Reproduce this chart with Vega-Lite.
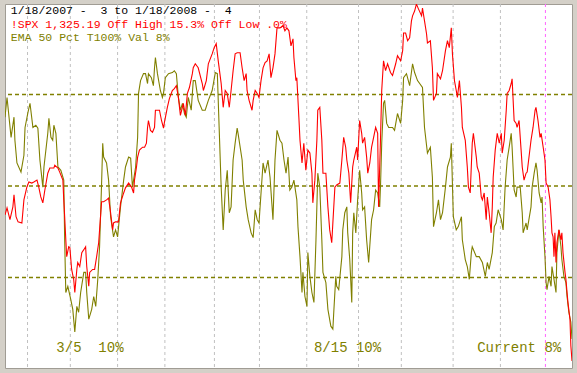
{
"$schema":"https://vega.github.io/schema/vega-lite/v6.json",
"width":577,"height":373,
"autosize":{"type":"fit","contains":"padding"},
"padding":{"left":4,"top":3,"right":4,"bottom":4},
"background":"#d4d0c8",
"view":{"fill":"#ffffff","stroke":"#a09c94","strokeWidth":1},
"datasets":{
"grid":[{"day":10,"kind":"month"},{"day":29,"kind":"month"},{"day":50,"kind":"month"},{"day":71,"kind":"month"},{"day":93,"kind":"month"},{"day":113,"kind":"month"},{"day":134,"kind":"month"},{"day":157,"kind":"month"},{"day":176,"kind":"month"},{"day":199,"kind":"month"},{"day":220,"kind":"month"}],
"yearline":[{"day":240}],
"levels":[{"pct":25},{"pct":50},{"pct":75}],
"ema":[{"day":0,"pct":68.8},{"day":0.9,"pct":74.2},{"day":2.7,"pct":63.3},{"day":4.0,"pct":68.8},{"day":4.4,"pct":62.5},{"day":5.3,"pct":56.3},{"day":7.1,"pct":53.8},{"day":8.4,"pct":58.4},{"day":8.9,"pct":66.0},{"day":10.2,"pct":70.1},{"day":11.1,"pct":72.6},{"day":12.4,"pct":66.0},{"day":13.7,"pct":66.6},{"day":14.6,"pct":65.8},{"day":15.5,"pct":57.1},{"day":16.8,"pct":49.7},{"day":17.3,"pct":55.2},{"day":19.0,"pct":64.4},{"day":19.5,"pct":68.5},{"day":20.4,"pct":63.3},{"day":21.2,"pct":62.5},{"day":21.7,"pct":66.6},{"day":22.6,"pct":64.4},{"day":23.5,"pct":55.2},{"day":24.8,"pct":54.3},{"day":26.1,"pct":51.6},{"day":26.5,"pct":35.3},{"day":27.0,"pct":20.9},{"day":27.9,"pct":22.6},{"day":29.2,"pct":19.0},{"day":30.1,"pct":16.3},{"day":31.0,"pct":10.1},{"day":31.9,"pct":17.1},{"day":32.7,"pct":15.5},{"day":33.6,"pct":20.9},{"day":35.0,"pct":26.4},{"day":35.8,"pct":26.4},{"day":36.3,"pct":20.9},{"day":37.2,"pct":13.6},{"day":38.5,"pct":16.3},{"day":39.4,"pct":19.8},{"day":40.3,"pct":17.1},{"day":41.2,"pct":24.5},{"day":42.0,"pct":33.4},{"day":42.9,"pct":50.8},{"day":43.4,"pct":61.7},{"day":43.8,"pct":57.9},{"day":45.1,"pct":56.3},{"day":46.0,"pct":51.6},{"day":46.9,"pct":41.6},{"day":48.2,"pct":36.1},{"day":49.1,"pct":38.0},{"day":50.0,"pct":36.1},{"day":51.3,"pct":44.3},{"day":52.7,"pct":51.6},{"day":53.5,"pct":55.2},{"day":54.9,"pct":57.9},{"day":55.8,"pct":57.6},{"day":56.6,"pct":49.7},{"day":57.1,"pct":51.6},{"day":58.0,"pct":55.2},{"day":58.9,"pct":63.3},{"day":59.3,"pct":75.3},{"day":60.2,"pct":78.8},{"day":61.5,"pct":80.7},{"day":62.4,"pct":80.7},{"day":63.3,"pct":78.0},{"day":63.7,"pct":80.7},{"day":65.0,"pct":79.6},{"day":65.9,"pct":77.4},{"day":66.4,"pct":82.3},{"day":66.8,"pct":85.1},{"day":67.7,"pct":80.7},{"day":69.0,"pct":76.1},{"day":69.9,"pct":74.2},{"day":70.4,"pct":75.3},{"day":71.2,"pct":79.6},{"day":72.6,"pct":80.7},{"day":74.3,"pct":81.0},{"day":75.2,"pct":81.5},{"day":76.1,"pct":80.7},{"day":77.0,"pct":74.2},{"day":77.9,"pct":70.7},{"day":78.8,"pct":72.6},{"day":79.7,"pct":69.8},{"day":80.5,"pct":68.8},{"day":81.4,"pct":74.2},{"day":82.7,"pct":70.7},{"day":83.6,"pct":78.8},{"day":84.5,"pct":78.8},{"day":85.8,"pct":73.4},{"day":87.6,"pct":70.7},{"day":88.9,"pct":70.7},{"day":90.3,"pct":73.4},{"day":92.0,"pct":76.1},{"day":93.4,"pct":81.0},{"day":94.3,"pct":80.7},{"day":95.1,"pct":66.0},{"day":96.0,"pct":49.7},{"day":96.9,"pct":38.0},{"day":97.8,"pct":48.9},{"day":98.7,"pct":54.3},{"day":99.6,"pct":42.7},{"day":100.4,"pct":44.3},{"day":101.3,"pct":57.1},{"day":102.2,"pct":61.7},{"day":103.1,"pct":65.8},{"day":103.5,"pct":64.4},{"day":105.3,"pct":57.1},{"day":105.8,"pct":51.6},{"day":107.1,"pct":44.3},{"day":108.0,"pct":40.8},{"day":109.3,"pct":37.2},{"day":110.2,"pct":35.9},{"day":111.1,"pct":43.5},{"day":112.0,"pct":40.8},{"day":112.8,"pct":39.9},{"day":113.7,"pct":48.1},{"day":114.6,"pct":56.3},{"day":115.5,"pct":53.5},{"day":116.8,"pct":57.1},{"day":117.7,"pct":52.4},{"day":119.0,"pct":40.8},{"day":119.9,"pct":57.1},{"day":120.8,"pct":65.2},{"day":122.1,"pct":62.5},{"day":123.0,"pct":61.7},{"day":123.9,"pct":57.1},{"day":124.8,"pct":53.5},{"day":125.7,"pct":57.9},{"day":126.5,"pct":48.9},{"day":127.4,"pct":49.7},{"day":128.3,"pct":51.6},{"day":129.6,"pct":46.2},{"day":130.1,"pct":38.9},{"day":131.0,"pct":30.7},{"day":131.9,"pct":20.9},{"day":132.3,"pct":26.4},{"day":133.2,"pct":19.8},{"day":134.1,"pct":17.1},{"day":134.5,"pct":31.8},{"day":135.4,"pct":25.3},{"day":136.3,"pct":20.9},{"day":137.2,"pct":18.2},{"day":138.1,"pct":35.3},{"day":138.9,"pct":53.5},{"day":139.8,"pct":49.7},{"day":140.7,"pct":35.3},{"day":141.2,"pct":26.4},{"day":142.5,"pct":23.6},{"day":143.4,"pct":16.3},{"day":144.7,"pct":11.7},{"day":145.6,"pct":10.9},{"day":146.0,"pct":15.5},{"day":146.9,"pct":25.3},{"day":147.3,"pct":22.6},{"day":148.2,"pct":21.7},{"day":149.6,"pct":30.7},{"day":150.0,"pct":38.0},{"day":150.9,"pct":42.7},{"day":151.8,"pct":44.3},{"day":152.2,"pct":37.2},{"day":153.1,"pct":29.9},{"day":154.0,"pct":18.2},{"day":154.4,"pct":37.2},{"day":154.9,"pct":42.7},{"day":155.8,"pct":37.2},{"day":156.6,"pct":46.2},{"day":157.5,"pct":54.3},{"day":158.4,"pct":48.1},{"day":158.8,"pct":43.5},{"day":159.7,"pct":44.3},{"day":160.6,"pct":35.3},{"day":161.5,"pct":29.1},{"day":162.8,"pct":40.8},{"day":163.7,"pct":43.5},{"day":164.6,"pct":48.9},{"day":165.5,"pct":48.1},{"day":166.4,"pct":44.3},{"day":166.8,"pct":50.8},{"day":167.3,"pct":61.7},{"day":168.1,"pct":72.6},{"day":168.6,"pct":73.4},{"day":169.5,"pct":67.1},{"day":170.4,"pct":66.0},{"day":172.1,"pct":66.0},{"day":173.0,"pct":65.2},{"day":174.3,"pct":69.8},{"day":175.7,"pct":67.1},{"day":176.6,"pct":73.4},{"day":177.0,"pct":79.6},{"day":178.3,"pct":80.7},{"day":179.7,"pct":77.4},{"day":181.0,"pct":83.4},{"day":181.9,"pct":81.0},{"day":183.2,"pct":78.8},{"day":185.4,"pct":76.9},{"day":186.3,"pct":66.0},{"day":187.6,"pct":59.0},{"day":188.9,"pct":60.6},{"day":189.8,"pct":52.4},{"day":190.3,"pct":38.9},{"day":191.6,"pct":42.7},{"day":192.5,"pct":46.2},{"day":193.4,"pct":40.8},{"day":194.3,"pct":42.7},{"day":195.6,"pct":49.7},{"day":196.5,"pct":55.2},{"day":197.8,"pct":57.9},{"day":198.2,"pct":61.7},{"day":199.1,"pct":41.6},{"day":200.4,"pct":38.0},{"day":201.3,"pct":38.9},{"day":202.7,"pct":41.6},{"day":203.1,"pct":35.3},{"day":204.4,"pct":29.9},{"day":205.3,"pct":28.0},{"day":206.2,"pct":24.5},{"day":207.1,"pct":31.8},{"day":207.5,"pct":33.4},{"day":209.3,"pct":30.7},{"day":210.6,"pct":30.7},{"day":212.0,"pct":29.1},{"day":213.3,"pct":25.3},{"day":214.2,"pct":29.1},{"day":215.0,"pct":27.2},{"day":216.4,"pct":31.8},{"day":217.3,"pct":38.9},{"day":218.1,"pct":39.9},{"day":219.0,"pct":43.5},{"day":220.4,"pct":40.8},{"day":221.2,"pct":38.0},{"day":222.1,"pct":49.7},{"day":223.0,"pct":57.1},{"day":223.9,"pct":60.6},{"day":224.8,"pct":64.4},{"day":225.2,"pct":60.6},{"day":226.1,"pct":48.9},{"day":227.0,"pct":47.0},{"day":227.4,"pct":49.7},{"day":228.8,"pct":49.7},{"day":229.7,"pct":42.7},{"day":230.1,"pct":37.2},{"day":231.4,"pct":39.9},{"day":231.9,"pct":38.0},{"day":233.6,"pct":44.3},{"day":234.1,"pct":49.7},{"day":235.0,"pct":53.5},{"day":235.8,"pct":56.3},{"day":236.3,"pct":54.3},{"day":237.2,"pct":48.1},{"day":238.1,"pct":45.4},{"day":238.5,"pct":47.0},{"day":239.0,"pct":38.9},{"day":239.8,"pct":30.7},{"day":240.3,"pct":23.6},{"day":240.7,"pct":21.7},{"day":241.6,"pct":25.3},{"day":242.5,"pct":22.6},{"day":242.9,"pct":28.0},{"day":243.8,"pct":24.5},{"day":244.7,"pct":20.9},{"day":245.1,"pct":31.8},{"day":246.0,"pct":38.0},{"day":246.9,"pct":33.4},{"day":247.3,"pct":29.9},{"day":248.2,"pct":25.3},{"day":249.1,"pct":23.6},{"day":249.6,"pct":19.8},{"day":250.4,"pct":15.5},{"day":251.3,"pct":12.8},{"day":251.8,"pct":8.2}],
"spx":[{"day":0,"pct":42.1},{"day":0.9,"pct":44.0},{"day":2.2,"pct":40.8},{"day":3.5,"pct":44.3},{"day":4.0,"pct":47.6},{"day":4.9,"pct":41.6},{"day":5.8,"pct":40.2},{"day":7.5,"pct":39.9},{"day":8.4,"pct":46.2},{"day":9.7,"pct":49.7},{"day":10.6,"pct":51.1},{"day":11.9,"pct":50.8},{"day":12.8,"pct":51.1},{"day":14.2,"pct":51.6},{"day":15.0,"pct":49.7},{"day":15.9,"pct":47.0},{"day":16.8,"pct":45.4},{"day":17.7,"pct":48.9},{"day":19.0,"pct":53.5},{"day":19.9,"pct":54.9},{"day":21.7,"pct":54.9},{"day":22.1,"pct":55.7},{"day":23.5,"pct":54.9},{"day":24.3,"pct":53.8},{"day":25.7,"pct":51.6},{"day":26.1,"pct":46.2},{"day":26.5,"pct":41.6},{"day":27.0,"pct":35.3},{"day":27.4,"pct":30.7},{"day":28.3,"pct":33.4},{"day":28.8,"pct":33.2},{"day":29.6,"pct":27.2},{"day":30.5,"pct":24.5},{"day":31.0,"pct":20.9},{"day":31.9,"pct":27.2},{"day":32.3,"pct":29.1},{"day":33.2,"pct":28.0},{"day":34.1,"pct":31.8},{"day":35.0,"pct":32.6},{"day":35.8,"pct":33.4},{"day":36.3,"pct":28.0},{"day":37.2,"pct":22.6},{"day":37.6,"pct":26.4},{"day":38.9,"pct":27.2},{"day":39.8,"pct":27.2},{"day":40.7,"pct":30.7},{"day":41.6,"pct":34.5},{"day":42.0,"pct":38.0},{"day":42.9,"pct":45.7},{"day":43.8,"pct":45.7},{"day":45.1,"pct":46.2},{"day":46.0,"pct":46.7},{"day":46.9,"pct":42.7},{"day":47.8,"pct":38.0},{"day":48.2,"pct":39.9},{"day":49.1,"pct":40.2},{"day":50.4,"pct":40.2},{"day":51.3,"pct":45.4},{"day":52.7,"pct":48.1},{"day":53.5,"pct":49.5},{"day":54.9,"pct":50.8},{"day":56.2,"pct":49.7},{"day":57.1,"pct":48.1},{"day":57.5,"pct":51.6},{"day":58.4,"pct":55.2},{"day":58.9,"pct":57.9},{"day":59.7,"pct":59.8},{"day":61.1,"pct":60.6},{"day":62.0,"pct":60.6},{"day":62.8,"pct":61.7},{"day":63.3,"pct":66.0},{"day":63.7,"pct":67.9},{"day":64.6,"pct":65.2},{"day":65.5,"pct":64.7},{"day":66.4,"pct":66.0},{"day":66.8,"pct":70.7},{"day":67.7,"pct":70.7},{"day":68.6,"pct":70.7},{"day":69.5,"pct":67.9},{"day":70.4,"pct":65.8},{"day":70.8,"pct":67.4},{"day":72.1,"pct":71.5},{"day":73.0,"pct":73.9},{"day":74.3,"pct":76.1},{"day":75.2,"pct":76.6},{"day":76.1,"pct":77.4},{"day":77.0,"pct":74.2},{"day":77.9,"pct":69.3},{"day":79.2,"pct":72.6},{"day":80.1,"pct":69.3},{"day":81.0,"pct":75.3},{"day":81.9,"pct":76.9},{"day":83.2,"pct":80.7},{"day":83.6,"pct":82.3},{"day":84.5,"pct":83.4},{"day":85.8,"pct":82.3},{"day":87.6,"pct":78.0},{"day":88.1,"pct":76.1},{"day":89.4,"pct":78.8},{"day":90.3,"pct":83.4},{"day":92.0,"pct":86.1},{"day":92.9,"pct":87.8},{"day":93.8,"pct":88.9},{"day":94.7,"pct":84.2},{"day":96.0,"pct":78.0},{"day":96.9,"pct":71.5},{"day":97.8,"pct":76.1},{"day":98.7,"pct":75.3},{"day":99.6,"pct":71.5},{"day":100.4,"pct":76.1},{"day":101.3,"pct":81.5},{"day":102.2,"pct":86.1},{"day":103.1,"pct":86.4},{"day":104.4,"pct":86.4},{"day":105.3,"pct":82.3},{"day":106.2,"pct":78.8},{"day":107.1,"pct":80.7},{"day":107.5,"pct":76.1},{"day":108.4,"pct":73.4},{"day":109.7,"pct":70.7},{"day":110.2,"pct":73.4},{"day":111.1,"pct":76.1},{"day":112.0,"pct":75.3},{"day":112.8,"pct":74.2},{"day":113.7,"pct":78.8},{"day":114.6,"pct":82.3},{"day":115.5,"pct":83.7},{"day":116.4,"pct":84.2},{"day":117.3,"pct":86.1},{"day":118.1,"pct":79.6},{"day":119.0,"pct":82.3},{"day":119.9,"pct":86.1},{"day":120.8,"pct":93.2},{"day":122.1,"pct":93.2},{"day":123.5,"pct":93.8},{"day":124.3,"pct":92.4},{"day":125.2,"pct":93.2},{"day":126.1,"pct":92.4},{"day":127.0,"pct":88.3},{"day":127.9,"pct":90.2},{"day":128.3,"pct":85.1},{"day":129.2,"pct":78.8},{"day":129.6,"pct":79.6},{"day":130.5,"pct":68.8},{"day":131.0,"pct":62.5},{"day":131.9,"pct":56.3},{"day":132.7,"pct":61.7},{"day":133.6,"pct":54.3},{"day":134.5,"pct":59.8},{"day":135.4,"pct":59.0},{"day":136.3,"pct":53.5},{"day":136.7,"pct":45.4},{"day":137.6,"pct":51.6},{"day":138.5,"pct":62.5},{"day":138.9,"pct":70.7},{"day":139.8,"pct":71.5},{"day":140.7,"pct":62.5},{"day":141.2,"pct":53.5},{"day":142.5,"pct":53.5},{"day":143.4,"pct":44.3},{"day":144.2,"pct":38.0},{"day":145.1,"pct":34.5},{"day":145.6,"pct":39.9},{"day":146.5,"pct":49.7},{"day":147.3,"pct":50.3},{"day":148.7,"pct":50.8},{"day":149.6,"pct":57.1},{"day":150.4,"pct":63.3},{"day":151.3,"pct":60.6},{"day":151.8,"pct":57.1},{"day":152.7,"pct":53.5},{"day":153.5,"pct":45.4},{"day":154.4,"pct":55.2},{"day":154.9,"pct":57.1},{"day":156.2,"pct":60.6},{"day":156.6,"pct":57.1},{"day":157.5,"pct":67.9},{"day":158.4,"pct":64.4},{"day":158.8,"pct":61.7},{"day":159.7,"pct":63.3},{"day":160.6,"pct":57.9},{"day":161.1,"pct":53.5},{"day":162.0,"pct":56.3},{"day":162.8,"pct":60.6},{"day":163.7,"pct":63.3},{"day":164.6,"pct":66.0},{"day":165.5,"pct":64.4},{"day":165.9,"pct":44.3},{"day":166.8,"pct":63.9},{"day":167.3,"pct":76.1},{"day":168.1,"pct":84.2},{"day":169.0,"pct":81.5},{"day":169.9,"pct":83.4},{"day":171.2,"pct":81.0},{"day":172.1,"pct":80.2},{"day":173.5,"pct":83.4},{"day":174.3,"pct":85.6},{"day":175.7,"pct":84.2},{"day":176.6,"pct":87.0},{"day":177.0,"pct":91.8},{"day":177.9,"pct":91.8},{"day":178.8,"pct":89.7},{"day":179.7,"pct":90.5},{"day":180.5,"pct":95.1},{"day":181.0,"pct":96.5},{"day":181.9,"pct":97.8},{"day":182.7,"pct":99.7},{"day":183.6,"pct":98.4},{"day":185.0,"pct":96.5},{"day":185.4,"pct":98.6},{"day":186.3,"pct":95.1},{"day":187.2,"pct":91.6},{"day":187.6,"pct":89.1},{"day":188.9,"pct":89.7},{"day":189.8,"pct":82.3},{"day":190.3,"pct":73.4},{"day":191.6,"pct":75.3},{"day":192.0,"pct":80.7},{"day":193.4,"pct":79.3},{"day":194.3,"pct":81.5},{"day":195.6,"pct":87.0},{"day":196.5,"pct":89.7},{"day":197.3,"pct":87.8},{"day":198.2,"pct":93.2},{"day":198.7,"pct":86.1},{"day":199.6,"pct":78.8},{"day":200.4,"pct":76.1},{"day":200.9,"pct":74.2},{"day":201.8,"pct":78.8},{"day":202.7,"pct":71.5},{"day":203.1,"pct":66.0},{"day":204.4,"pct":62.5},{"day":205.3,"pct":55.2},{"day":205.8,"pct":49.7},{"day":206.6,"pct":48.1},{"day":207.5,"pct":61.7},{"day":208.0,"pct":64.4},{"day":209.3,"pct":57.9},{"day":209.7,"pct":55.2},{"day":210.6,"pct":53.5},{"day":211.5,"pct":47.0},{"day":212.0,"pct":46.2},{"day":212.8,"pct":48.1},{"day":213.7,"pct":40.8},{"day":214.2,"pct":47.0},{"day":215.0,"pct":42.7},{"day":215.9,"pct":37.2},{"day":216.4,"pct":44.3},{"day":216.8,"pct":52.4},{"day":217.7,"pct":59.8},{"day":218.6,"pct":64.4},{"day":219.5,"pct":61.7},{"day":220.4,"pct":64.4},{"day":220.8,"pct":59.0},{"day":221.7,"pct":62.5},{"day":222.6,"pct":70.7},{"day":223.0,"pct":75.3},{"day":223.9,"pct":76.1},{"day":224.8,"pct":78.0},{"day":225.2,"pct":79.3},{"day":226.1,"pct":67.9},{"day":227.0,"pct":67.1},{"day":227.4,"pct":66.0},{"day":228.3,"pct":67.9},{"day":229.2,"pct":59.8},{"day":229.7,"pct":55.2},{"day":230.5,"pct":51.6},{"day":231.4,"pct":53.5},{"day":231.9,"pct":53.8},{"day":233.6,"pct":62.5},{"day":234.5,"pct":66.0},{"day":235.4,"pct":70.7},{"day":235.8,"pct":71.5},{"day":236.7,"pct":67.9},{"day":237.6,"pct":63.3},{"day":238.1,"pct":64.4},{"day":239.0,"pct":60.6},{"day":239.8,"pct":57.1},{"day":240.3,"pct":50.8},{"day":241.2,"pct":49.7},{"day":242.0,"pct":46.2},{"day":242.5,"pct":41.6},{"day":242.9,"pct":37.2},{"day":243.4,"pct":36.1},{"day":243.8,"pct":30.7},{"day":244.2,"pct":37.2},{"day":244.7,"pct":29.1},{"day":245.1,"pct":34.5},{"day":246.0,"pct":38.0},{"day":246.9,"pct":35.3},{"day":247.3,"pct":37.2},{"day":247.8,"pct":31.8},{"day":248.7,"pct":26.4},{"day":249.1,"pct":24.5},{"day":249.6,"pct":20.9},{"day":250.0,"pct":18.2},{"day":250.9,"pct":13.6},{"day":251.3,"pct":6.3},{"day":251.8,"pct":2.2}],
"notes":[{"label":"3/5 \u00a010%","day":22.8,"pct":4.6},{"label":"8/15 10%","day":137.2,"pct":4.6},{"label":"Current 8%","day":209.7,"pct":4.6}],
"head1":[{"label":"1/18/2007 -\u00a0 3 to 1/18/2008 -\u00a0 4","day":2.6,"pct":97.0}],
"head2":[{"label":"!SPX 1,325.19 Off High 15.3% Off Low .0%","day":2.6,"pct":93.2}],
"head3":[{"label":"EMA 50 Pct T100% Val 8%","day":2.6,"pct":89.7}]
},
"encoding":{
"x":{"field":"day","type":"quantitative","scale":{"domain":[0,251.8],"nice":false,"zero":false},"axis":null},
"y":{"field":"pct","type":"quantitative","scale":{"domain":[0.27,99.73],"nice":false,"zero":false},"axis":null}
},
"layer":[
{"data":{"name":"grid"},"mark":{"type":"rule","strokeDash":[3,3],"strokeWidth":1,"color":"#c0c0c0"},"encoding":{"y":null}},
{"data":{"name":"yearline"},"mark":{"type":"rule","strokeDash":[3,3],"strokeWidth":1,"color":"#ff66ff"},"encoding":{"y":null}},
{"data":{"name":"levels"},"mark":{"type":"rule","strokeDash":[4,3],"strokeWidth":1.3,"color":"#808000"},"encoding":{"x":null}},
{"data":{"name":"ema"},"mark":{"type":"line","color":"#808000","strokeWidth":1.1,"clip":true},"encoding":{}},
{"data":{"name":"spx"},"mark":{"type":"line","color":"#ff0000","strokeWidth":1.1,"clip":true},"encoding":{}},
{"data":{"name":"head1"},"mark":{"type":"text","align":"left","baseline":"alphabetic","font":"Liberation Mono","fontSize":11.5,"fill":"#000000"},"encoding":{"text":{"field":"label","type":"nominal"}}},
{"data":{"name":"head2"},"mark":{"type":"text","align":"left","baseline":"alphabetic","font":"Liberation Mono","fontSize":11.5,"fill":"#ff0000"},"encoding":{"text":{"field":"label","type":"nominal"}}},
{"data":{"name":"head3"},"mark":{"type":"text","align":"left","baseline":"alphabetic","font":"Liberation Mono","fontSize":11.5,"fill":"#808000"},"encoding":{"text":{"field":"label","type":"nominal"}}},
{"data":{"name":"notes"},"mark":{"type":"text","align":"left","baseline":"alphabetic","font":"Liberation Mono","fontSize":14,"fill":"#808000"},"encoding":{"text":{"field":"label","type":"nominal"}}}
]
}
